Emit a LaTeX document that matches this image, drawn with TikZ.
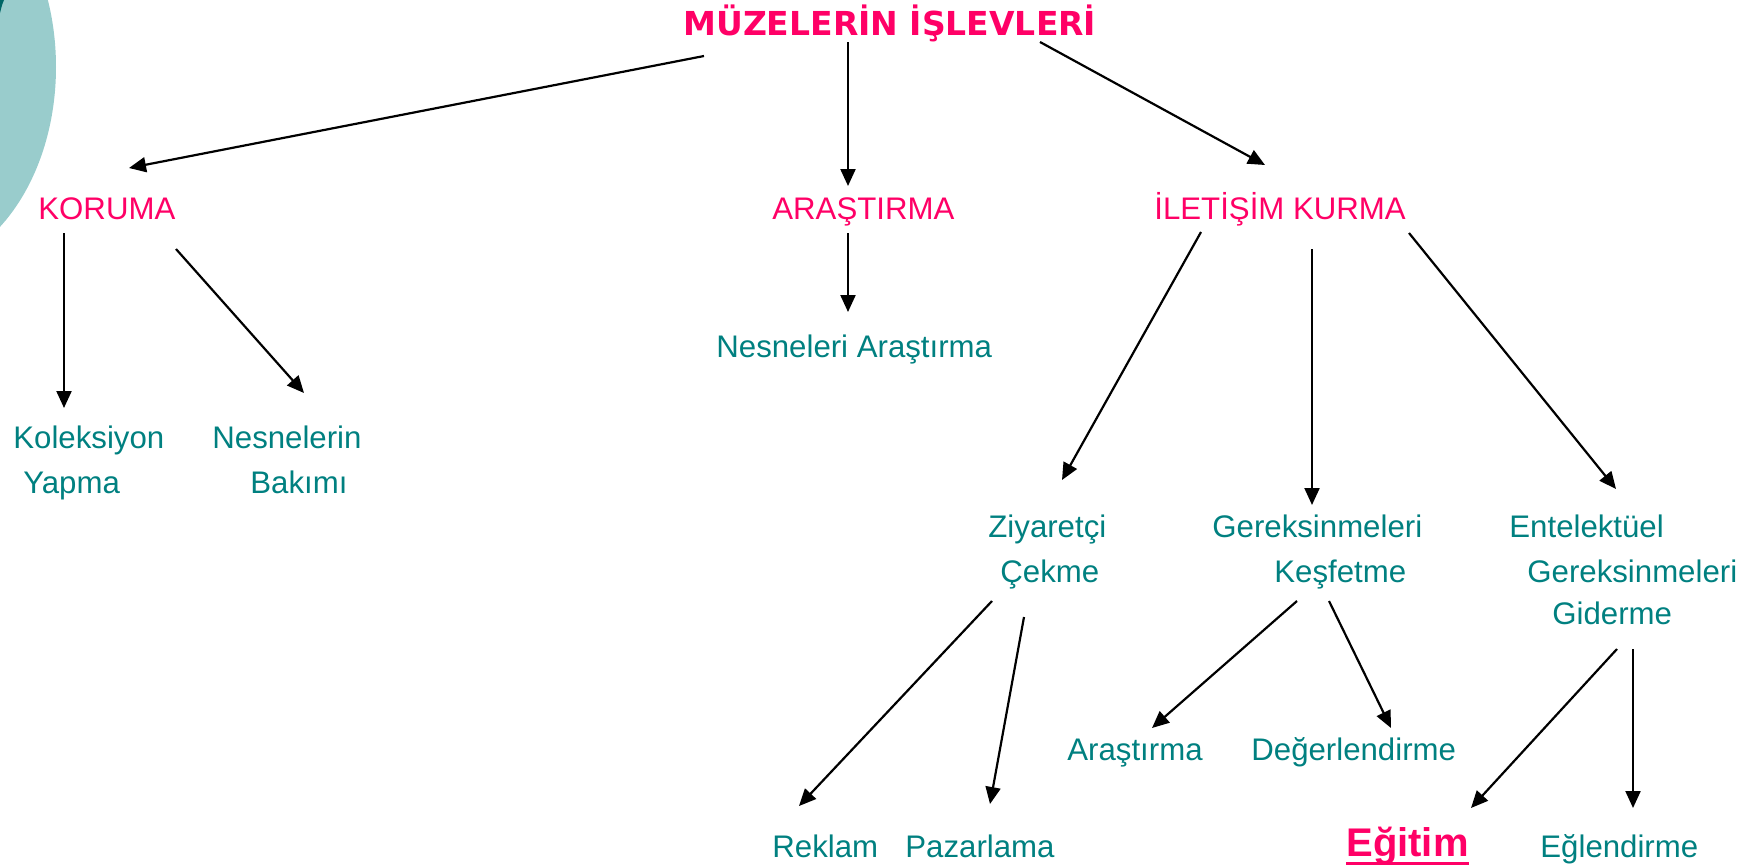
\documentclass[tikz,border=0pt]{standalone}
\usepackage{fontspec}
\setmainfont{Liberation Sans}
\newfontfamily\titlefont{DejaVu Sans}
\usetikzlibrary{arrows.meta,calc}
\definecolor{rosered}{HTML}{FF0066}
\definecolor{tealtext}{HTML}{008080}
\definecolor{paleteal}{HTML}{99CCCC}
\definecolor{deepteal}{HTML}{006666}

\begin{document}
\begin{tikzpicture}[x=0.5pt,y=-0.5pt,>={Triangle[length=8.5pt,width=7.5pt]},
  head/.style={anchor=base west,inner sep=0pt,text=rosered,font=\fontsize{15.6pt}{22.8pt}\selectfont},
  leaf/.style={anchor=base west,inner sep=0pt,align=left,text=tealtext,font=\fontsize{15.6pt}{22.8pt}\selectfont},
  link/.style={->,draw=black,line width=1.1pt}]
\useasboundingbox (0,0) rectangle (1760,867);
% slide decoration in the corner
\begin{scope}
\clip (0,0) rectangle (1760,867);
\fill[paleteal] (-90,67) ellipse [x radius=146,y radius=203];
\fill[deepteal] (0,0) -- (4,0) .. controls (2,5) .. (0,13) -- cycle;
\end{scope}

\node[anchor=base west,inner sep=0pt,text=rosered,font=\titlefont\bfseries\fontsize{16.5pt}{20pt}\selectfont] (title) at (683,35) {MÜZELERİN İŞLEVLERİ};

\node[head] (koruma) at (38,219) {KORUMA};
\node[head] (arastirma) at (772,219) {ARAŞTIRMA};
\node[head] (iletisim) at (1154,219) {İLETİŞİM KURMA};

% multi-line nodes sit on the baseline of their last line
\node[leaf] (koleksiyon) at (13,493.6) {Koleksiyon\\\hspace*{5pt}Yapma};
\node[leaf] (nesnelerin) at (212,493.6) {Nesnelerin\\\hspace*{19pt}Bakımı};
\node[leaf] (nesneleri) at (716,357) {Nesneleri Araştırma};

\node[leaf] (ziyaretci) at (988,582.6) {Ziyaretçi\\\hspace*{6pt}Çekme};
\node[leaf] (gereksinme) at (1212,582.6) {Gereksinmeleri\\\hspace*{31pt}Keşfetme};
\node[leaf] (entelektuel) at (1509,624.2) {Entelektüel\\\hspace*{9pt}Gereksinmeleri\\[-2pt]\hspace*{21.5pt}Giderme};

\node[leaf] (arastirma2) at (1067,760) {Araştırma};
\node[leaf] (degerlendirme) at (1251,760) {Değerlendirme};
\node[leaf] (reklam) at (772,857) {Reklam};
\node[leaf] (pazarlama) at (905,857) {Pazarlama};
\node[anchor=base west,inner sep=0pt,text=rosered,font=\bfseries\fontsize{20pt}{24pt}\selectfont] (egitim) at (1346,856) {Eğitim};
\draw[rosered,line width=1.5pt] ([yshift=-3.5pt]egitim.base west) -- ([yshift=-3.5pt]egitim.base east);
\node[leaf] (eglendirme) at (1540,857) {Eğlendirme};

% first level
\draw[link] ($(title.base west)+(21,21)$) -- ($(koruma.base west)+(91,-51)$);
\draw[link] ($(title.base west)+(165,7)$) -- ($(arastirma.base west)+(76,-33)$);
\draw[link] ($(title.base west)+(357,7)$) -- ($(iletisim.base west)+(111,-54)$);
% second level
\draw[link] ($(koruma.base west)+(26,14)$) -- ($(koleksiyon.base west)+(51,-85.6)$);
\draw[link] ($(koruma.base west)+(138,30)$) -- ($(nesnelerin.base west)+(92,-100.6)$);
\draw[link] ($(arastirma.base west)+(76,14)$) -- ($(nesneleri.base west)+(132,-45)$);
\draw[link] ($(iletisim.base west)+(47,13)$) -- ($(ziyaretci.base west)+(74,-102.6)$);
\draw[link] ($(iletisim.base west)+(158,30)$) -- ($(gereksinme.base west)+(100,-77.6)$);
\draw[link] ($(iletisim.base west)+(255,14)$) -- ($(entelektuel.base west)+(107,-135.2)$);
% third level
\draw[link] ($(ziyaretci.base west)+(4,18.4)$) -- ($(reklam.base west)+(27,-51)$);
\draw[link] ($(ziyaretci.base west)+(36,34.4)$) -- ($(pazarlama.base west)+(85,-53)$);
\draw[link] ($(gereksinme.base west)+(85,18.4)$) -- ($(arastirma2.base west)+(85,-32)$);
\draw[link] ($(gereksinme.base west)+(117,18.4)$) -- ($(degerlendirme.base west)+(140,-32)$);
\draw[link] ($(entelektuel.base west)+(108,24.8)$) -- ($(egitim.base west)+(125,-48)$);
\draw[link] ($(entelektuel.base west)+(124,24.8)$) -- ($(eglendirme.base west)+(93,-49)$);
\end{tikzpicture}
\end{document}
